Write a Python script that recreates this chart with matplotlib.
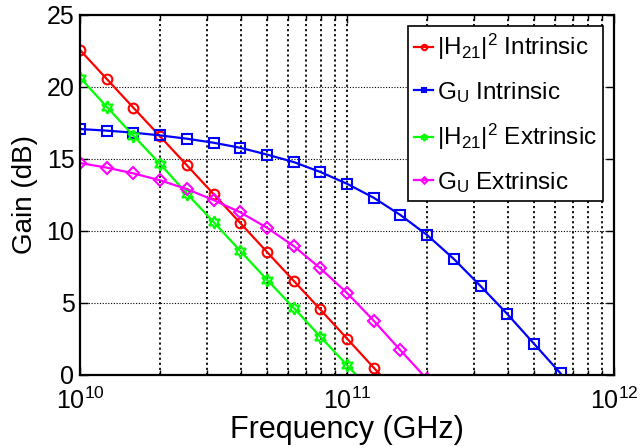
import numpy as np
import matplotlib
matplotlib.use("Agg")
import matplotlib.pyplot as plt
from matplotlib.ticker import FixedLocator, NullFormatter

plt.rcParams['font.family'] = ['Liberation Sans', 'DejaVu Sans']
plt.rcParams['mathtext.fontset'] = 'custom'
plt.rcParams['mathtext.rm'] = 'Liberation Sans'
plt.rcParams['mathtext.it'] = 'Liberation Sans'
plt.rcParams['mathtext.bf'] = 'Liberation Sans:bold'

# Frequencies: 10^(10 + 0.1 k)
freq_exponents = [10 + 0.1 * k for k in range(20)]

h21_intrinsic = [22.57, 20.56, 18.56, 16.57, 14.57, 12.57, 10.56, 8.55, 6.55, 4.55, 2.53, 0.51, -1.5]
gu_intrinsic = [17.08, 16.97, 16.83, 16.64, 16.41, 16.13, 15.78, 15.31, 14.79, 14.10, 13.28, 12.31,
                11.11, 9.72, 8.06, 6.18, 4.24, 2.18, 0.11]
h21_extrinsic = [20.65, 18.63, 16.62, 14.65, 12.60, 10.63, 8.62, 6.62, 4.67, 2.66, 0.69, -1.3]
gu_extrinsic = [14.72, 14.40, 14.00, 13.52, 12.91, 12.15, 11.30, 10.23, 8.96, 7.41, 5.70, 3.77, 1.72, -0.3]

labels = [r'$|\mathrm{H}_{21}|^2$ Intrinsic', r'$\mathrm{G}_{\mathrm{U}}$ Intrinsic',
          r'$|\mathrm{H}_{21}|^2$ Extrinsic', r'$\mathrm{G}_{\mathrm{U}}$ Extrinsic']

fig = plt.figure(figsize=(6.43, 4.47), dpi=100)
ax = fig.add_axes([80/643, 1-375/447, 534/643, 360/447])

def fx(vals):
    return [10 ** e for e in freq_exponents[:len(vals)]]

ms = 7
ax.plot(fx(h21_intrinsic), h21_intrinsic, color='red', marker='o', mfc='none', mew=1.5, ms=ms, lw=1.6, label=labels[0])
ax.plot(fx(gu_intrinsic), gu_intrinsic, color='blue', marker='s', mfc='none', mew=1.5, ms=6.5, lw=1.6, label=labels[1])
ax.plot(fx(h21_extrinsic), h21_extrinsic, color='#00ff00', marker=(6, 1, 0), mfc='none', mew=1.5, ms=9, lw=1.6, label=labels[2])
ax.plot(fx(gu_extrinsic), gu_extrinsic, color='magenta', marker='D', mfc='none', mew=1.5, ms=6, lw=1.6, label=labels[3])

ax.set_xscale('log')
ax.set_xlim(1e10, 1e12)
ax.set_ylim(0, 25)
ax.set_yticks([0, 5, 10, 15, 20, 25])
ax.set_xticks([1e10, 1e11, 1e12])
ax.set_xticklabels([r'$10^{10}$', r'$10^{11}$', r'$10^{12}$'])
minor = [m * 10 ** d for d in (10, 11) for m in range(2, 10)]
ax.xaxis.set_minor_locator(FixedLocator(minor))
ax.xaxis.set_minor_formatter(NullFormatter())

for x in minor + [1e11]:
    ax.axvline(x, color='black', ls=(0, (1.2, 1.6)), lw=1.3, zorder=0.5)
for y in [5, 10, 15, 20]:
    ax.axhline(y, color='black', ls=(0, (1, 1.5)), lw=0.8, zorder=0.5)

ax.tick_params(which='both', direction='in', top=True, right=True, labelsize=18, width=1.0)
ax.tick_params(which='major', length=6)
ax.tick_params(which='minor', length=3.5)
ax.tick_params(axis='x', pad=9)
ax.tick_params(axis='y', pad=4)
for s in ax.spines.values():
    s.set_linewidth(1.6)

ax.set_xlabel('Frequency (GHz)', fontsize=22, labelpad=1)
ax.set_ylabel('Gain (dB)', fontsize=20, labelpad=6)

leg = ax.legend(loc='upper right', fontsize=17.5, frameon=True, fancybox=False, framealpha=1,
                edgecolor='black', handlelength=0.8, handletextpad=0.15, borderpad=0.25,
                labelspacing=0.72, borderaxespad=0.45, markerscale=0.55)
leg.get_frame().set_linewidth(1.2)
for h in leg.legend_handles:
    h.set_markerfacecolor('none')

fig.savefig('out.png', dpi=100)
